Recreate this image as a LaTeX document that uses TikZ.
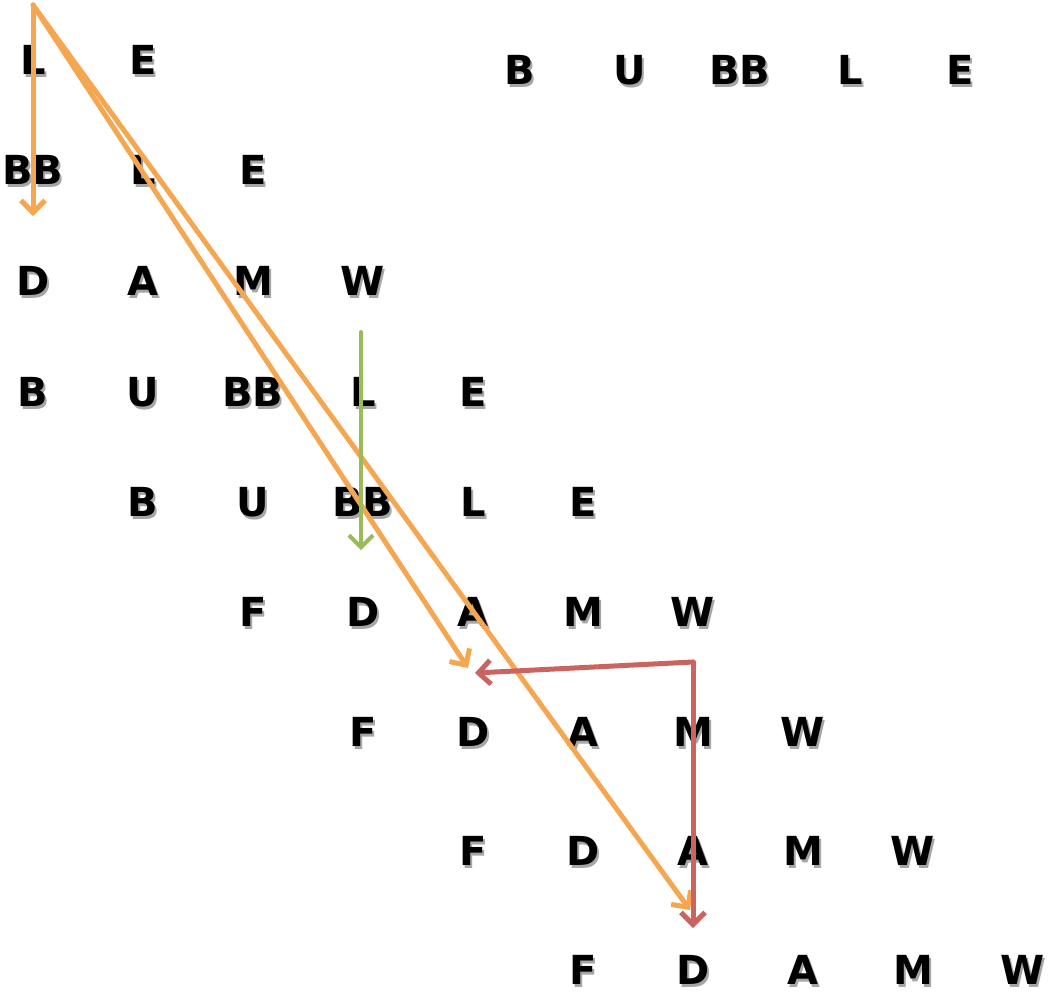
\documentclass[tikz,border=0pt]{standalone}
\usepackage{fontspec}
\setsansfont{DejaVu Sans}
\usetikzlibrary{arrows.meta}
\definecolor{hoporange}{HTML}{F5A650}
\definecolor{hopred}{HTML}{CB6360}
\definecolor{hopgreen}{HTML}{9BBB59}
\tikzset{
  ltr/.style={font=\sffamily\bfseries\fontsize{40}{40}\selectfont,inner sep=0pt,anchor=base},
  hop/.style={-{Straight Barb[length=12pt,width=24pt]},line width=5pt,line cap=round},
}
% letter with a soft grey drop shadow
\newcommand{\shd}[1]{\makebox[0pt][l]{\kern2pt\raisebox{-3pt}{\color{black!35}#1}}#1}
% one row of letters: name, first x, y (middle of the caps), letters (110pt apart)
\newcommand{\ltrrow}[4]{%
  \foreach \t [count=\i from 0] in {#4}{%
    \node[ltr] (#1\i) at ({#2+110*\i},{#3+14.5}) {\shd{\t}};}}

\begin{document}
\begin{tikzpicture}[x=1pt,y=-1pt]
  \useasboundingbox (0,0) rectangle (1058,1002);
  % word at the top right
  \ltrrow{w}{520}{70}{B,U,BB,L,E}
  % the staircase
  \ltrrow{a}{33}{60}{L,E}
  \ltrrow{b}{33}{170}{BB,L,E}
  \ltrrow{c}{33}{281}{D,A,M,W}
  \ltrrow{d}{33}{392}{B,U,BB,L,E}
  \ltrrow{e}{143}{502}{B,U,BB,L,E}
  \ltrrow{f}{253}{612}{F,D,A,M,W}
  \ltrrow{g}{363}{732}{F,D,A,M,W}
  \ltrrow{h}{473}{851}{F,D,A,M,W}
  \ltrrow{k}{583}{970}{F,D,A,M,W}
  % arrow ends
  \coordinate (src) at (33,5);
  \coordinate (downA) at (33,216);
  \coordinate (midA) at (468,668);
  \coordinate (farA) at (690,910);
  \coordinate (gtop) at (361,332);
  \coordinate (gbot) at (361,550);
  \coordinate (corner) at (693,662);
  \coordinate (rleft) at (475,673);
  \coordinate (rbot) at (693,928);
  % orange
  \draw[hop,hoporange] (src) -- (downA);
  \draw[hop,hoporange] (src) -- (midA);
  \draw[hop,hoporange] (src) -- (farA);
  % red
  \draw[hop,hopred] (corner) -- (rleft);
  \draw[hop,hopred] (corner) -- (rbot);
  % green
  \draw[hop,hopgreen,line width=4pt] (gtop) -- (gbot);
\end{tikzpicture}
\end{document}
